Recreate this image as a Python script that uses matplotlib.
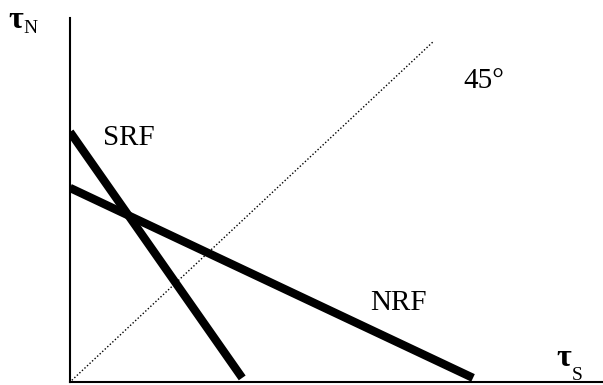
import matplotlib
matplotlib.use("Agg")
import matplotlib.pyplot as plt

# Reaction functions (tau_S on x, tau_N on y)
srf_x = [0.0, 47.3]
srf_y = [73.3, 1.2]
nrf_x = [0.0, 110.7]
nrf_y = [56.9, 1.2]
diag_x = [0.5, 100.0]
diag_y = [0.5, 100.0]

serif = ["Liberation Serif", "DejaVu Serif"]

fig = plt.figure(figsize=(6.03, 3.85), dpi=100)
W, H = 603, 385
ax = fig.add_axes([70 / W, 3 / H, 533 / W, 364 / H])
ax.set_xlim(0, 146.4)
ax.set_ylim(0, 106.7)

for s in ["top", "right"]:
    ax.spines[s].set_visible(False)
for s in ["left", "bottom"]:
    ax.spines[s].set_linewidth(1.5)
    ax.spines[s].set_color("black")
ax.set_xticks([])
ax.set_yticks([])

ax.plot(diag_x, diag_y, color="black", lw=1.0, linestyle=(0, (1, 1.5)))
ax.plot(srf_x, srf_y, color="black", lw=6.0, solid_capstyle="butt")
ax.plot(nrf_x, nrf_y, color="black", lw=6.0, solid_capstyle="butt")

fs = 21
ax.text(103 / W, 1 - 145 / H, "SRF", transform=fig.transFigure, fontsize=fs,
        family=serif, ha="left", va="baseline")
ax.text(370 / W, 1 - 310 / H, "NRF", transform=fig.transFigure, fontsize=fs,
        family=serif, ha="left", va="baseline")
ax.text(463 / W, 1 - 88 / H, "45°", transform=fig.transFigure, fontsize=fs,
        family=serif, ha="left", va="baseline")

# axis labels
fig.text(8 / W, 1 - 28 / H, "τ", fontsize=23, family=serif, fontweight="bold",
         ha="left", va="baseline")
fig.text(23 / W, 1 - 33 / H, "N", fontsize=14, family=serif, ha="left", va="baseline")
fig.text(556 / W, 1 - 366 / H, "τ", fontsize=23, family=serif, fontweight="bold",
         ha="left", va="baseline")
fig.text(572 / W, 1 - 380 / H, "S", fontsize=14, family=serif, ha="left", va="baseline")

fig.savefig("out.png", dpi=100)
